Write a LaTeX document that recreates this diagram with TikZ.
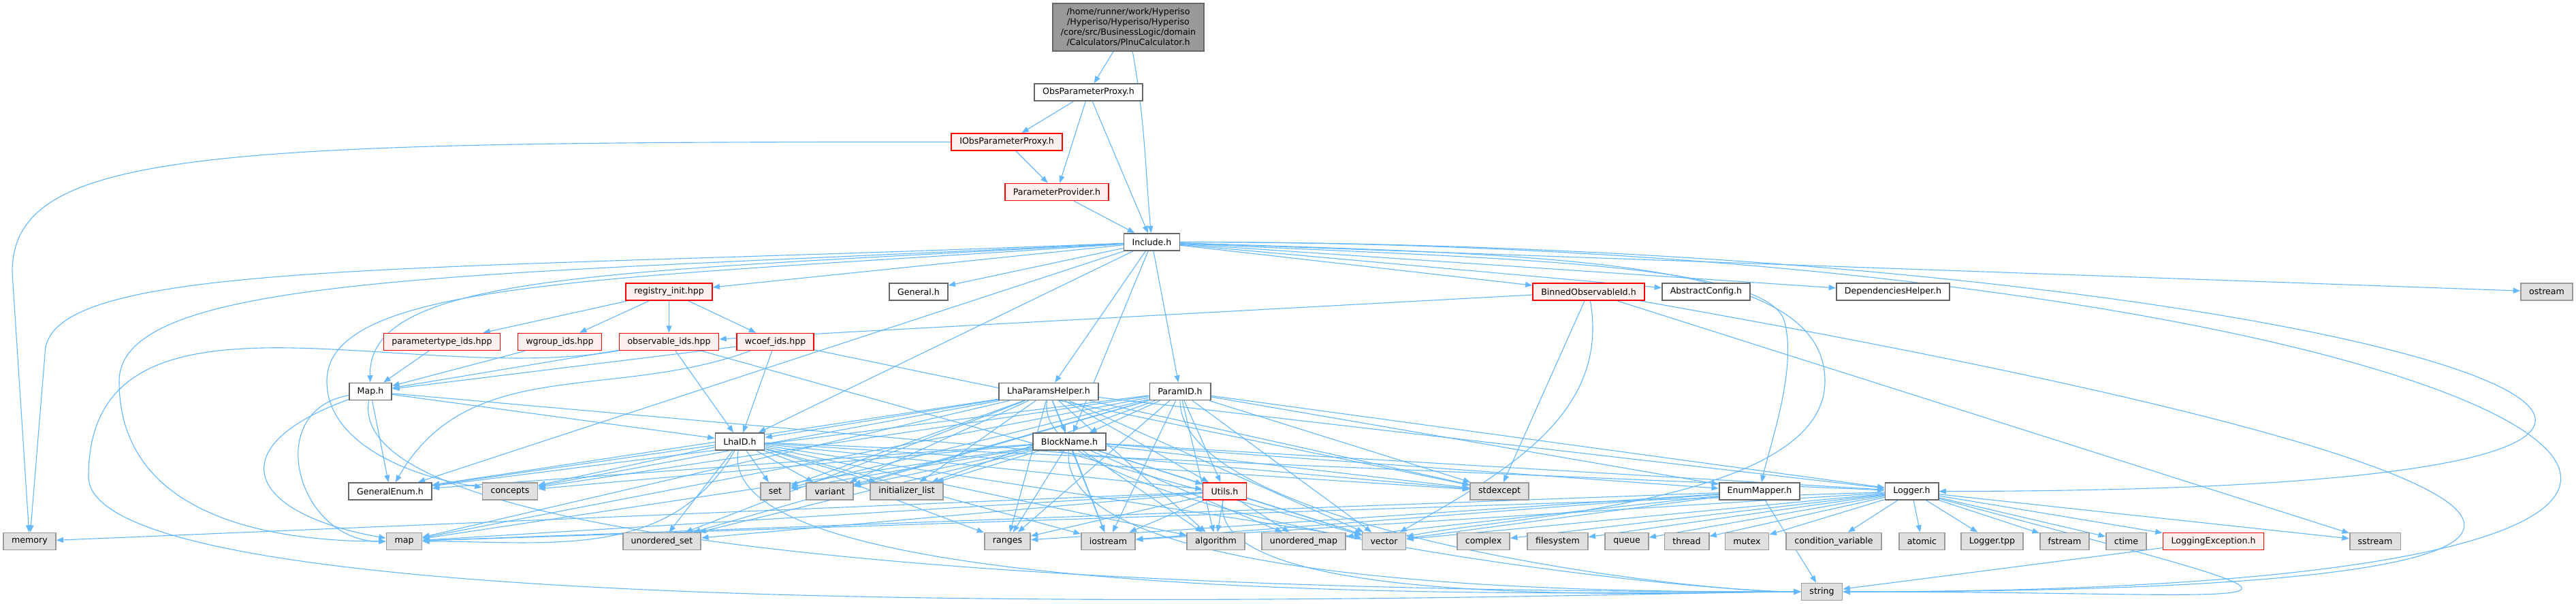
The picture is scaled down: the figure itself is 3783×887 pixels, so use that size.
\documentclass[tikz,border=0pt]{standalone}
\usepackage{fontspec}
\setmainfont{DejaVu Sans}
\usetikzlibrary{arrows.meta, backgrounds}

\definecolor{edgeblue}{HTML}{63B8FF}
\definecolor{sysfill}{HTML}{E0E0E0}
\definecolor{sysline}{HTML}{999999}
\definecolor{fileline}{HTML}{666666}
\definecolor{redfill}{HTML}{FFF0F0}
\definecolor{topfill}{HTML}{999999}

\tikzset{
  link/.style = {draw = edgeblue, line width = 0.28pt},
  every edge/.style = {link},
  file/.style = {draw = fileline, fill = white, line width = 0.42pt, minimum height = 6.25pt,
    inner xsep = 3pt, inner ysep = 0pt, font = \fontsize{3.15}{3.75}\selectfont},
  sysfile/.style = {file, draw = sysline, fill = sysfill},
  redfile/.style = {file, draw = red, fill = redfill},
  topfile/.style = {file, fill = topfill, minimum height = 17.5pt, align = center}
}

\begin{document}
\begin{tikzpicture} [-> , >= {Stealth[length = 2.6pt, width = 2pt, inset = 0pt]}, x = 0.25pt, y = 0.25pt]

\useasboundingbox (0, 0) rectangle (3783, -887);

\node [topfile] (calc) at (1657, -40) {/home/runner/work/Hyperiso\\/Hyperiso/Hyperiso/Hyperiso\\/core/src/BusinessLogic/domain\\/Calculators/PlnuCalculator.h};
\node [file] (obsproxy) at (1598.5, -135.5) {ObsParameterProxy.h};
\node [redfile] (iobsproxy) at (1478.5, -208.5) {IObsParameterProxy.h};
\node [redfile] (paramprov) at (1552, -282) {ParameterProvider.h};
\node [file] (include) at (1691.5, -355.5) {Include.h};

\node [redfile] (registry) at (982.5, -428.5) {registry\_init.hpp};
\node [file] (general) at (1349, -428.5) {General.h};
\node [redfile] (binned) at (2333, -428.5) {BinnedObservableId.h};
\node [file] (abstract) at (2505.5, -428.5) {AbstractConfig.h};
\node [file] (deps) at (2780, -428.5) {DependenciesHelper.h};
\node [sysfile] (ostream) at (3740, -428.5) {ostream};

\node [redfile] (ptype) at (649, -502) {parametertype\_ids.hpp};
\node [redfile] (wgroup) at (822, -502) {wgroup\_ids.hpp};
\node [redfile] (obsids) at (982.5, -502) {observable\_ids.hpp};
\node [redfile] (wcoef) at (1138.5, -502) {wcoef\_ids.hpp};

\node [file] (maph) at (544, -575) {Map.h};
\node [file] (lhahelper) at (1540, -575) {LhaParamsHelper.h};
\node [file] (paramid) at (1733, -575) {ParamID.h};

\node [file] (lhaid) at (1086.5, -648.5) {LhaID.h};
\node [file] (blockname) at (1570.5, -648.5) {BlockName.h};

\node [file] (genenum) at (573, -721.5) {GeneralEnum.h};
\node [sysfile] (concepts) at (749, -721.5) {concepts};
\node [sysfile] (set) at (1138.5, -721.5) {set};
\node [sysfile] (variant) at (1218.5, -721.5) {variant};
\node [sysfile] (initlist) at (1331.5, -721.5) {initializer\_list};
\node [redfile] (utils) at (1798.5, -721.5) {Utils.h};
\node [sysfile] (stdexcept) at (2202, -721.5) {stdexcept};
\node [file] (enummapper) at (2584, -721.5) {EnumMapper.h};
\node [file] (logger) at (2807.5, -721.5) {Logger.h};

\node [sysfile] (memory) at (43.5, -795) {memory};
\node [sysfile] (map) at (593.5, -795) {map};
\node [sysfile] (uset) at (972, -795) {unordered\_set};
\node [sysfile] (ranges) at (1479.5, -795) {ranges};
\node [sysfile] (iostream) at (1627.5, -795) {iostream};
\node [sysfile] (algorithm) at (1785.5, -795) {algorithm};
\node [sysfile] (umap) at (1914.5, -795) {unordered\_map};
\node [sysfile] (vector) at (2032.5, -795) {vector};
\node [sysfile] (complex) at (2178.5, -795) {complex};
\node [sysfile] (filesystem) at (2287.5, -795) {filesystem};
\node [sysfile] (queue) at (2389, -795) {queue};
\node [sysfile] (thread) at (2477, -795) {thread};
\node [sysfile] (mutex) at (2565.5, -795) {mutex};
\node [sysfile] (condvar) at (2693, -795) {condition\_variable};
\node [sysfile] (atomic) at (2822.5, -795) {atomic};
\node [sysfile] (loggertpp) at (2925.5, -795) {Logger.tpp};
\node [sysfile] (fstream) at (3032, -795) {fstream};
\node [sysfile] (ctime) at (3122.5, -795) {ctime};
\node [redfile] (logexc) at (3250.5, -795) {LoggingException.h};
\node [sysfile] (sstream) at (3488, -795) {sstream};

\node [sysfile] (string) at (2675.5, -869) {string};

\begin{pgfonlayer}{background}
% top of the graph
\path (calc) edge (obsproxy);
\path (calc) edge [out=-80, in=95] (include);
\path (obsproxy) edge (iobsproxy);
\path (obsproxy) edge (paramprov);
\path (obsproxy) edge (include);
\path (iobsproxy) edge (paramprov);
\draw [link] (iobsproxy) .. controls (300, -208) and (18, -220) .. (18, -400) -- (memory);
\path (paramprov) edge (include);

% Include.h
\path (include) edge (general);
\path (include) edge (registry);
\path (include) edge (binned);
\path (include) edge (abstract);
\path (include) edge (deps);
\path (include) edge (ostream);
\draw [link] (include) .. controls (900, -400) and (540, -400) .. (maph);
\path (include) edge (lhaid);
\path (include) edge (lhahelper);
\path (include) edge (paramid);
\path (include) edge (blockname);
\draw [link] (include) .. controls (600, -400) and (66, -380) .. (66, -520) -- (memory);
\draw [link] (include) .. controls (700, -405) and (175, -400) .. (175, -560) .. controls (175, -760) and (400, -795) .. (map);
\draw [link] (include) .. controls (900, -410) and (480, -410) .. (480, -560) .. controls (480, -650) and (600, -700) .. (concepts);
\path (include) edge (genenum);
\draw [link] (include) .. controls (2200, -380) and (2590, -385) .. (2620, -470) .. controls (2640, -540) and (2600, -650) .. (enummapper);
\draw [link] (include) .. controls (2300, -375) and (2680, -380) .. (2680, -560) .. controls (2680, -740) and (2200, -760) .. (vector);
\path (include) edge [out=0, in=0, looseness=4.5] (string);
\path (include) edge [out=0, in=0, looseness=3.8] (logger);

% registry and ids
\path (registry) edge (ptype);
\path (registry) edge (wgroup);
\path (registry) edge (obsids);
\path (registry) edge (wcoef);
\path (ptype) edge (maph);
\path (wgroup) edge (maph);
\path (obsids) edge (maph);
\path (obsids) edge (lhaid);
\path (obsids) edge (vector);
\draw [link] (obsids) to [out=190, in=90] (130, -700) to [out=-90, in=180, looseness=0.25] (string);
\path (wcoef) edge (maph);
\path (wcoef) edge (lhaid);
\path (wcoef) edge [out=200, in=60] (genenum);
\path (wcoef) edge (stdexcept);

% BinnedObservableId.h
\path (binned) edge (obsids);
\path (binned) edge (stdexcept);
\path (binned) edge [out=-80, in=30] (vector);
\path (binned) edge (sstream);
\path (binned) edge [out=-10, in=0, looseness=6.9] (string);

% Map.h
\path (maph) edge (lhaid);
\path (maph) edge (genenum);
\path (maph) edge [out=190, in=180, looseness=1.5] (map);
\path (maph) edge [out=200, in=170, looseness=2.5] (map);
\path (maph) edge (stdexcept);
\path (maph) edge [out=-100, in=180, looseness=0.35] (string);

% LhaID.h
\path (lhaid) edge (genenum);
\path (lhaid) edge (concepts);
\path (lhaid) edge (set);
\path (lhaid) edge (variant);
\path (lhaid) edge (initlist);
\path (lhaid) edge [out=-120, in=0] (map);
\path (lhaid) edge (uset);
\path (lhaid) edge (stdexcept);
\path (lhaid) edge (vector);
\path (lhaid) edge (logger);
\path (lhaid) edge (ranges);
\path (lhaid) edge (iostream);
\path (lhaid) edge (algorithm);
\path (lhaid) edge (utils);
\path (lhaid) edge [out=-100, in=180, looseness=0.4] (string);

% LhaParamsHelper.h
\path (lhahelper) edge (lhaid);
\path (lhahelper) edge (blockname);
\path (lhahelper) edge (genenum);
\path (lhahelper) edge (concepts);
\path (lhahelper) edge (set);
\path (lhahelper) edge (variant);
\path (lhahelper) edge (initlist);
\path (lhahelper) edge (utils);
\path (lhahelper) edge (map);
\path (lhahelper) edge (uset);
\path (lhahelper) edge (ranges);
\path (lhahelper) edge (iostream);
\path (lhahelper) edge (algorithm);
\path (lhahelper) edge (vector);
\path (lhahelper) edge (stdexcept);
\path (lhahelper) edge (logger);
\path (lhahelper) edge [out=-100, in=180, looseness=0.4] (string);

% ParamID.h
\path (paramid) edge (blockname);
\path (paramid) edge (utils);
\path (paramid) edge (genenum);
\path (paramid) edge (concepts);
\path (paramid) edge (set);
\path (paramid) edge (variant);
\path (paramid) edge (initlist);
\path (paramid) edge (map);
\path (paramid) edge (uset);
\path (paramid) edge (ranges);
\path (paramid) edge (iostream);
\path (paramid) edge (algorithm);
\path (paramid) edge (vector);
\path (paramid) edge (stdexcept);
\path (paramid) edge (logger);
\path (paramid) edge (enummapper);
\path (paramid) edge [out=-90, in=180, looseness=0.5] (string);

% BlockName.h
\path (blockname) edge (genenum);
\path (blockname) edge (concepts);
\path (blockname) edge (set);
\path (blockname) edge (variant);
\path (blockname) edge (initlist);
\path (blockname) edge (utils);
\path (blockname) edge (ranges);
\path (blockname) edge (iostream);
\path (blockname) edge (algorithm);
\path (blockname) edge (umap);
\path (blockname) edge (vector);
\path (blockname) edge (stdexcept);
\path (blockname) edge (logger);
\path (blockname) edge (enummapper);
\path (blockname) edge (map);
\path (blockname) edge (uset);
\path (blockname) edge [out=-95, in=180, looseness=0.5] (string);

% Utils.h
\path (utils) edge (memory);
\path (utils) edge (map);
\path (utils) edge (uset);
\path (utils) edge (ranges);
\path (utils) edge (iostream);
\path (utils) edge (algorithm);
\path (utils) edge (umap);
\path (utils) edge (vector);
\path (utils) edge [out=-100, in=180, looseness=0.5] (string);

% EnumMapper.h
\path (enummapper) edge (map);
\path (enummapper) edge (ranges);
\path (enummapper) edge (iostream);
\path (enummapper) edge (umap);
\path (enummapper) edge (vector);
\path (enummapper) edge (string);

% Logger.h
\path (logger) edge (complex);
\path (logger) edge (filesystem);
\path (logger) edge (queue);
\path (logger) edge (thread);
\path (logger) edge (mutex);
\path (logger) edge (condvar);
\path (logger) edge (atomic);
\path (logger) edge (loggertpp);
\path (logger) edge (fstream);
\path (logger) edge (ctime);
\path (logger) edge (logexc);
\path (logger) edge (sstream);
\path (logger) edge (vector);
\path (logger) edge (iostream);
\path (logger) edge (map);
\path (logger) edge [out=-15, in=0, looseness=9] (string);
\path (logexc) edge (string);
\end{pgfonlayer}

\end{tikzpicture}
\end{document}
